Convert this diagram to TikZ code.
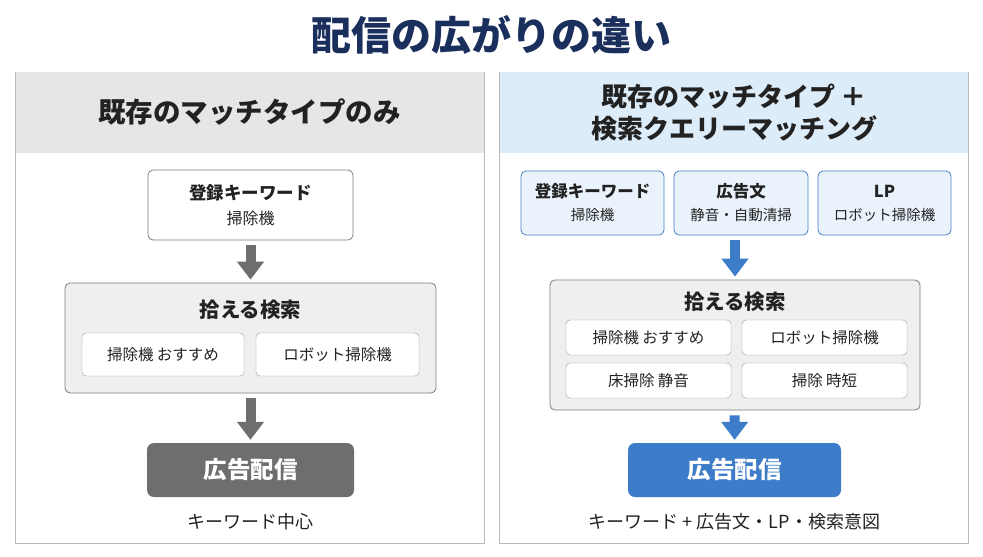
\documentclass[tikz,border=0pt]{standalone}
\usepackage{fontspec}
\setmainfont{Noto Sans CJK JP}
\usetikzlibrary{positioning,arrows.meta}
\definecolor{navy}{HTML}{1B2F5C}
\definecolor{panelline}{HTML}{B4B9BE}
\definecolor{grayhead}{HTML}{E6E6E6}
\definecolor{bluehead}{HTML}{DDECF9}
\definecolor{boxline}{HTML}{7E7E7E}
\definecolor{bluebox}{HTML}{EAF3FC}
\definecolor{blueline}{HTML}{4A80C2}
\definecolor{grayfill}{HTML}{EFEFEF}
\definecolor{grayout}{HTML}{6E6E6E}
\definecolor{blueout}{HTML}{3D7CC9}
\definecolor{txt}{HTML}{222222}
\begin{document}
\begin{tikzpicture}[x=1pt,y=-1pt,
            panel/.style={draw=panelline,line width=0.8pt,fill=white,minimum width=469pt,minimum height=471pt},
            head/.style={minimum width=468pt,minimum height=81pt,text=txt,align=center},
            kwbox/.style={draw=boxline,line width=0.8pt,fill=white,rounded corners=5pt,align=center,text=txt,font=\fontsize{16}{25}\selectfont},
            srcbox/.style={kwbox,draw=blueline,fill=bluebox,font=\fontsize{14.5}{23}\selectfont},
            pool/.style={draw=boxline,line width=0.8pt,fill=grayfill,rounded corners=5pt},
            hit/.style={draw=boxline!80,fill=white,rounded corners=4pt,text=txt,font=\fontsize{15.5}{17}\selectfont},
            pooltitle/.style={text=txt,font=\bfseries\fontsize{20.5}{24}\selectfont},
            outbox/.style={rounded corners=7pt,text=white,minimum width=207pt,minimum height=54pt,font=\bfseries\fontsize{23.5}{27}\selectfont},
            note/.style={text=txt,font=\fontsize{18}{20}\selectfont},
            bigarrow/.style={line width=10pt,-{Triangle[width=26pt,length=18pt]},shorten <=5pt,shorten >=3pt}]
        \useasboundingbox[fill=white] (0,0) rectangle (983,557);

        % Define title
        \node[text=navy,font=\bfseries\fontsize{40}{44}\selectfont] (title) at (491,35) {配信の広がりの違い};

        % Define left panel
        \node[panel] (lpanel) at (249.5,307.5) {};
        \node[head,fill=grayhead,font=\bfseries\fontsize{27.5}{32}\selectfont] (lhead) at (249.5,112.5) {既存のマッチタイプのみ};
        \node[kwbox,minimum width=205pt,minimum height=70pt] (lkw) at (250.5,205) {\textbf{\fontsize{17.5}{25}\selectfont 登録キーワード}\\掃除機};
        \node[pool,minimum width=371pt,minimum height=110pt] (lpool) at (250.5,338) {};
        \node[pooltitle] (lpooltitle) at (250.5,310) {拾える検索};
        \node[hit,minimum width=162pt,minimum height=43pt] (lhit1) at (163,354.5) {掃除機 おすすめ};
        \node[hit,minimum width=163pt,minimum height=43pt] (lhit2) at (337.5,354.5) {ロボット掃除機};
        \node[outbox,fill=grayout] (lout) at (250.5,470) {広告配信};
        \node[note] (lnote) at (250.5,522) {キーワード中心};

        % Define right panel
        \node[panel] (rpanel) at (734,307.5) {};
        \node[head,fill=bluehead,font=\bfseries\fontsize{26}{32}\selectfont] (rhead) at (734,112.5) {既存のマッチタイプ ＋\\検索クエリーマッチング};
        \node[srcbox,minimum width=143pt,minimum height=64pt] (rkw) at (592.5,203) {\textbf{\fontsize{16.5}{23}\selectfont 登録キーワード}\\掃除機};
        \node[srcbox,minimum width=134pt,minimum height=64pt] (rad) at (741,203) {\textbf{\fontsize{16.5}{23}\selectfont 広告文}\\静音・自動清掃};
        \node[srcbox,minimum width=133pt,minimum height=64pt] (rlp) at (884.5,203) {\textbf{\fontsize{16.5}{23}\selectfont LP}\\ロボット掃除機};
        \node[pool,minimum width=370pt,minimum height=130pt] (rpool) at (735,345) {};
        \node[pooltitle] (rpooltitle) at (735,302) {拾える検索};
        \node[hit,minimum width=165pt,minimum height=35pt] (rhit1) at (648.5,337.5) {掃除機 おすすめ};
        \node[hit,minimum width=165pt,minimum height=35pt] (rhit2) at (824.5,337.5) {ロボット掃除機};
        \node[hit,minimum width=165pt,minimum height=35pt] (rhit3) at (648.5,380.5) {床掃除 静音};
        \node[hit,minimum width=165pt,minimum height=35pt] (rhit4) at (824.5,380.5) {掃除 時短};
        \node[outbox,fill=blueout,minimum width=213pt] (rout) at (734.5,470) {広告配信};
        \node[note] (rnote) at (734.5,522) {キーワード + 広告文・LP・検索意図};

        % Draw arrows
        \draw[bigarrow,color=grayout] (lkw) -- (lpool);
        \draw[bigarrow,color=grayout] (lpool) -- (lout);
        \draw[bigarrow,color=blueout] (rad.south -| rpool.north) -- (rpool);
        \draw[bigarrow,color=blueout] (rpool) -- (rout);

        \end{tikzpicture}
\end{document}
